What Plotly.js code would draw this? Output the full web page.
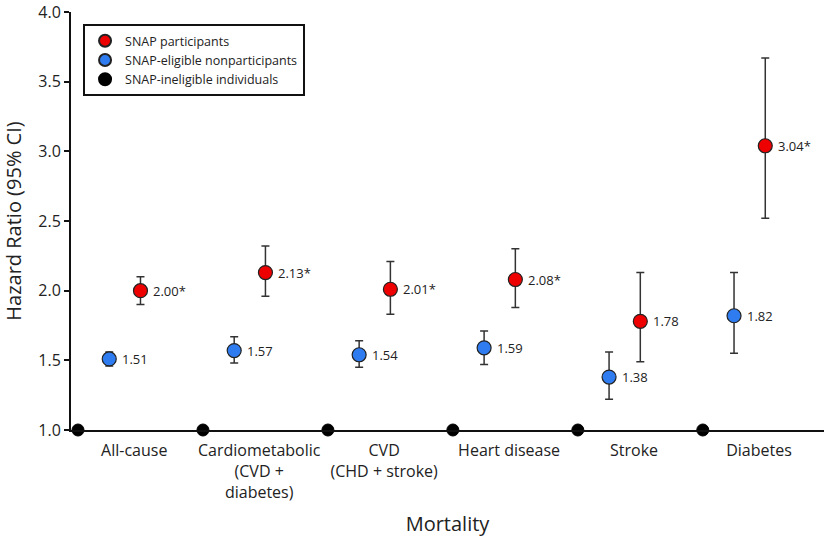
<!DOCTYPE html>
<html>
<head>
<meta charset="utf-8">
<script src="https://cdn.plot.ly/plotly-3.0.1.min.js"></script>
<style>html,body{margin:0;padding:0;background:#fff}#chart{width:825px;height:537px}</style>
</head>
<body>
<div id="chart"></div>
<script>
const categories = ["All-cause", "Cardiometabolic<br>(CVD +<br>diabetes)", "CVD<br>(CHD + stroke)", "Heart disease", "Stroke", "Diabetes"];
const participantsHR = [2.00, 2.13, 2.01, 2.08, 1.78, 3.04];
const participantsLow = [1.90, 1.96, 1.83, 1.88, 1.49, 2.52];
const participantsHigh = [2.10, 2.32, 2.21, 2.30, 2.13, 3.67];
const participantsText = ["2.00*", "2.13*", "2.01*", "2.08*", "1.78", "3.04*"];
const nonparticipantsHR = [1.51, 1.57, 1.54, 1.59, 1.38, 1.82];
const nonparticipantsLow = [1.46, 1.48, 1.45, 1.47, 1.22, 1.55];
const nonparticipantsHigh = [1.56, 1.67, 1.64, 1.71, 1.56, 2.13];
const nonparticipantsText = ["1.51", "1.57", "1.54", "1.59", "1.38", "1.82"];
const ineligibleHR = [1.0, 1.0, 1.0, 1.0, 1.0, 1.0];

const FONT = "'Open Sans', 'Noto Sans', sans-serif";
const idx = categories.map((_, i) => i);
const xBlack = idx.map(i => i);
const xBlue = idx.map(i => i + 0.25);
const xRed = idx.map(i => i + 0.5);
const xLabel = idx.map(i => i + 0.45);

function errs(hr, lo, hi) {
  return {
    type: 'data', symmetric: false,
    array: hr.map((v, i) => hi[i] - v),
    arrayminus: hr.map((v, i) => v - lo[i]),
    color: '#333', thickness: 1.5, width: 4
  };
}

const traces = [
  {
    name: 'SNAP participants', type: 'scatter', mode: 'markers',
    x: xRed, y: participantsHR,
    marker: {color: '#ee0000', size: 14, line: {color: '#222', width: 1.2}},
    error_y: errs(participantsHR, participantsLow, participantsHigh),
    cliponaxis: false
  },
  {
    name: 'SNAP-eligible nonparticipants', type: 'scatter', mode: 'markers',
    x: xBlue, y: nonparticipantsHR,
    marker: {color: '#2f7cf0', size: 14, line: {color: '#222', width: 1.2}},
    error_y: errs(nonparticipantsHR, nonparticipantsLow, nonparticipantsHigh),
    cliponaxis: false
  },
  {
    name: 'SNAP-ineligible individuals', type: 'scatter', mode: 'markers',
    x: xBlack, y: ineligibleHR,
    marker: {color: '#000', size: 12, line: {color: '#000', width: 1}},
    cliponaxis: false
  }
];

function labelAnns(xs, ys, texts) {
  return xs.map((x, i) => ({
    x: x, y: ys[i], xref: 'x', yref: 'y', text: texts[i],
    showarrow: false, xanchor: 'left', yanchor: 'middle', xshift: 11,
    font: {family: FONT, size: 13, color: '#222'}
  }));
}

const layout = {
  width: 825, height: 537,
  margin: {l: 71, r: 1, t: 12, b: 107},
  paper_bgcolor: '#fff', plot_bgcolor: '#fff',
  font: {family: FONT, color: '#222'},
  showlegend: true,
  legend: {
    x: 0.016, y: 0.971, xanchor: 'left', yanchor: 'top',
    bordercolor: '#111', borderwidth: 2, bgcolor: '#fff',
    font: {family: FONT, size: 12.5, color: '#222'},
    tracegroupgap: 0, itemsizing: 'constant'
  },
  annotations: labelAnns(xRed, participantsHR, participantsText)
    .concat(labelAnns(xBlue, nonparticipantsHR, nonparticipantsText)),
  xaxis: {
    range: [-0.056, 5.97],
    tickvals: xLabel, ticktext: categories,
    ticks: '', showgrid: false, zeroline: false,
    showline: true, linecolor: '#111', linewidth: 2,
    ticklabelstandoff: 5,
    tickfont: {family: FONT, size: 16, color: '#222'},
    title: {text: 'Mortality', font: {family: FONT, size: 20, color: '#222'}, standoff: 16}
  },
  yaxis: {
    range: [1, 4], dtick: 0.5, tick0: 1, tickformat: '.1f',
    ticks: 'outside', ticklen: 5, tickwidth: 2, tickcolor: '#111',
    showgrid: false, zeroline: false,
    showline: true, linecolor: '#111', linewidth: 2,
    tickfont: {family: FONT, size: 16, color: '#222'},
    title: {text: 'Hazard Ratio (95% CI)', font: {family: FONT, size: 20, color: '#222'}, standoff: 12}
  }
};

Plotly.newPlot('chart', traces, layout, {displayModeBar: false, staticPlot: true});
</script>
</body>
</html>
